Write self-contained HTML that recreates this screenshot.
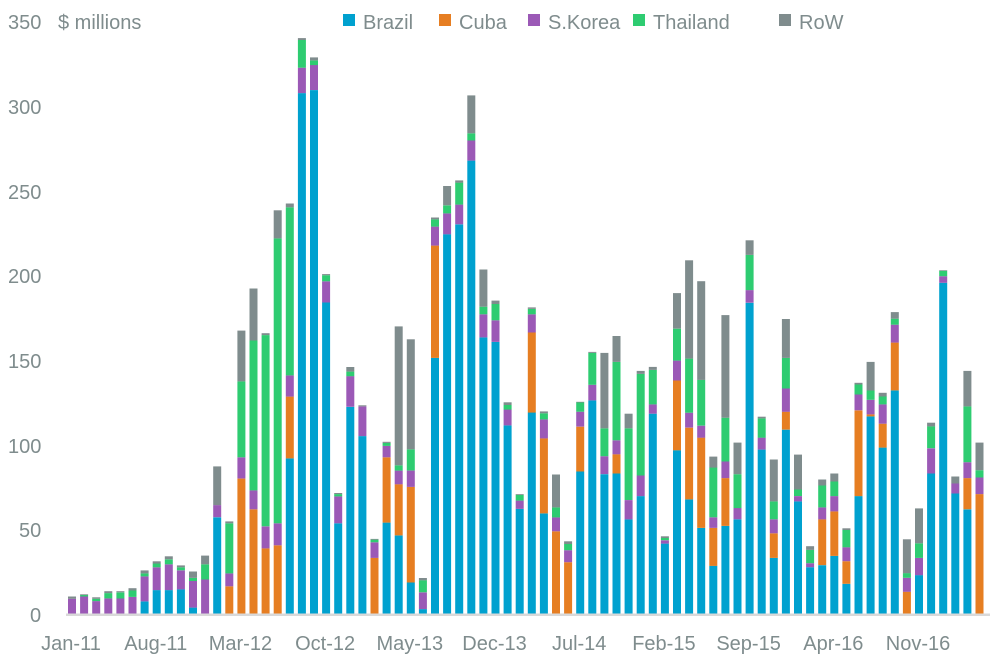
<!DOCTYPE html>
<html><head><meta charset="utf-8"><style>
html,body{margin:0;padding:0;background:#fff;}
svg{display:block;font-family:"Liberation Sans",sans-serif;}
</style></head><body>
<svg id="c" width="1007" height="666" viewBox="0 0 1007 666" xmlns="http://www.w3.org/2000/svg">
<g fill="#7f8c8d" font-size="20">
<text x="8" y="29">350</text>
<text x="58" y="29">$ millions</text>
<text x="8" y="114">300</text>
<text x="8" y="199">250</text>
<text x="8" y="283">200</text>
<text x="8" y="368">150</text>
<text x="8" y="453">100</text>
<text x="19" y="537">50</text>
<text x="30" y="622">0</text>
<rect x="343" y="14" width="12" height="12" fill="#00a1cf"/><text x="363" y="29">Brazil</text>
<rect x="439" y="14" width="12" height="12" fill="#e67e22"/><text x="459" y="29">Cuba</text>
<rect x="528" y="14" width="12" height="12" fill="#9b59b6"/><text x="548" y="29">S.Korea</text>
<rect x="633" y="14" width="12" height="12" fill="#2ecc71"/><text x="653" y="29">Thailand</text>
<rect x="779" y="14" width="12" height="12" fill="#7f8c8d"/><text x="799" y="29">RoW</text>
</g>
<g id="bars"></g>
<rect x="66" y="613.5" width="924" height="2.5" fill="#d9d9d9"/>
<g fill="#7f8c8d" font-size="20" text-anchor="middle" id="xl"></g>
</svg>
<script>
var A=[
[1538,1538,1498,1498,1492],[1538,1538,1492,1488,1486],[1538,1538,1504,1498,1494],[1538,1538,1497,1483,1478],
[1538,1538,1497,1481,1478],[1538,1538,1493,1476,1470],[1505,1505,1439,1431,1423],[1475,1475,1415,1405,1399],
[1475,1475,1407,1394,1386],[1473,1473,1423,1415,1410],[1521,1521,1451,1443,1426],[1538,1538,1447,1407,1384],
[1283,1283,1251,1251,1149],[1538,1465,1431,1299,1294],[1538,1181,1125,925,791],[1538,1262,1212,817,680],
[1538,1365,1307,803,798],[1538,1357,1299,548,474],[1128,965,909,466,456],[165,165,98,25,20],
[157,157,91,79,71],[717,717,661,645,642],[1299,1299,1228,1222,1219],[992,992,911,899,887],
[1069,1069,991,991,988],[1538,1390,1349,1342,1340],[1297,1125,1095,1087,1084],[1331,1196,1160,1146,780],
[1455,1203,1160,1104,814],[1525,1525,1481,1449,1443],[863,567,517,498,493],[537,537,482,461,410],
[511,511,459,401,395],[343,343,290,271,171],[809,809,748,728,630],[821,821,764,721,712],
[1041,1041,999,987,980],[1261,1261,1239,1224,1222],[1007,796,748,734,730],[1273,1075,1025,1009,1004]];
var B=[
[1392,1143,1101,1071,972],[1392,1236,1200,1181,1173],[963,828,783,755,753],[749,749,702,606,603],
[971,971,917,833,606],[969,911,869,633,555],[1107,1107,1049,833,789],[1037,1037,975,669,660],
[789,789,761,657,648],[1180,1180,1170,1163,1158],[899,689,629,533,426],[1047,831,786,623,327],
[1133,861,825,687,390],[1247,1133,1101,951,918],[1127,983,933,801,492],[1107,1107,1073,971,876],
[455,455,417,311,267],[897,897,861,803,798],[1223,1149,1107,1053,927],
[837,783,713,621,504],[1053,1053,1037,1017,912],[1251,1251,1239,1199,1188],[1245,1107,1071,1005,987],
[1217,1083,1037,993,969],[1301,1233,1191,1139,1134],[1037,779,731,701,696],[797,791,747,719,633],
[891,819,761,737,726],[719,575,521,503,483],[1392,1325,1283,1269,1167],[1275,1275,1223,1179,1074],
[969,969,893,827,816],[395,395,375,359,357],[1029,1029,999,999,978],[1077,983,935,767,660],[1392,1031,981,959,876]];
var cols=["#00a1cf","#e67e22","#9b59b6","#2ecc71","#7f8c8d"];
var s="",i,k;
function px(v){return 614-v*1.694;}
var all=[];
A.forEach(function(r){all.push(r.map(function(z){return (1538-z)/4.465;}));});
B.forEach(function(r){all.push(r.map(function(z){return (1392-z)/5.1;}));});
for(i=0;i<all.length;i++){
 var x=72+i*12.1-4, prev=0;
 for(k=0;k<5;k++){
  var v=Math.max(all[i][k],prev);
  if(v-prev>0.3){
   var y1=px(v),y0=px(prev);
   s+='<rect x="'+x.toFixed(1)+'" y="'+y1.toFixed(1)+'" width="8" height="'+(y0-y1).toFixed(1)+'" fill="'+cols[k]+'"/>';
  }
  prev=v;
 }
}
document.getElementById("bars").innerHTML=s;
var labs=["Jan-11","Aug-11","Mar-12","Oct-12","May-13","Dec-13","Jul-14","Feb-15","Sep-15","Apr-16","Nov-16"];
var t="";
labs.forEach(function(l,j){t+='<text x="'+(71+j*7*12.1).toFixed(1)+'" y="650">'+l+'</text>';});
document.getElementById("xl").innerHTML=t;
</script>
</body></html>
